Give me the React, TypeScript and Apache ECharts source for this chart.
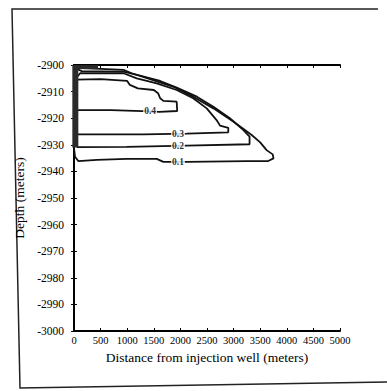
import React, { useEffect, useRef } from "react";
import * as echarts from "echarts";

// Contour levels (fraction) and their label positions
const levels = ["0.1", "0.2", "0.3", "0.4"];

// Contour lines: [distance (m), depth (m)]
const contour01 = [
  [0, -2931.3], [20, -2934.5], [80, -2936.1], [430, -2935.7], [990, -2935.3], [1555, -2935.3],
  [1680, -2936.4], [2120, -2936.4], [3250, -2936.1], [3650, -2936.1], [3750, -2935.1],
  [3735, -2933.6], [3620, -2932.0], [3500, -2929.1], [3340, -2926.3], [3000, -2921.3],
  [2620, -2916.3], [2240, -2911.9], [1870, -2908.2], [1430, -2905.3], [1085, -2903.1],
  [930, -2901.8], [175, -2901.2], [60, -2900.6],
];
const contour02 = [
  [50, -2930.9], [990, -2930.8], [2120, -2930.3], [3300, -2929.8], [3300, -2926.9],
  [3180, -2924.4], [2930, -2920.0], [2620, -2915.7], [2310, -2911.9], [1930, -2908.5],
  [1620, -2906.0], [1240, -2904.0], [930, -2902.5], [145, -2902.3], [60, -2901.5],
];
const contour03 = [
  [50, -2926.1], [1300, -2926.1], [2120, -2925.8], [2900, -2925.3], [2900, -2923.6],
  [2745, -2922.8], [2680, -2920.7], [2495, -2916.3], [2240, -2912.5], [1930, -2909.4],
  [1555, -2906.9], [1180, -2905.0], [930, -2903.1], [115, -2903.1], [40, -2905],
];
const contour04 = [
  [50, -2917], [700, -2917], [1430, -2917.4], [1600, -2917.6], [1940, -2917.3],
  [1930, -2913.8], [1680, -2913.5], [1620, -2912.5], [1580, -2910.6], [1500, -2909.4],
  [1200, -2908.8], [1050, -2907.5], [1000, -2906], [500, -2905.3], [50, -2905.5],
];
const labelPoints = [
  [1955, -2936.4], [1955, -2930.5], [1955, -2926.0], [1430, -2917.4],
];
// Saturated zone next to the well
const wellBand = [[25, -2900], [25, -2931]];
const topBand = [[0, -2900.8], [450, -2900.8]];

const FONT = "'Liberation Serif', 'DejaVu Serif', serif";
const plain = (v: number) => String(v);

export default function App() {
  const ref = useRef<HTMLDivElement>(null);
  useEffect(() => {
    if (!ref.current) return;
    const chart = echarts.init(ref.current, undefined, { renderer: "svg" });
    const contours = [contour01, contour02, contour03, contour04];
    const lineSeries: any[] = contours.map((d, i) => ({
      type: "line",
      name: levels[i],
      data: d,
      showSymbol: false,
      symbol: "none",
      lineStyle: { color: "#111", width: 1.8 },
      z: 2,
    }));
    chart.setOption({
      animation: false,
      backgroundColor: "#fff",
      graphic: [
        {
          type: "polyline",
          shape: { points: [[378, 9], [12, 9], [20, 388], [387, 382]] },
          style: { stroke: "#222", lineWidth: 1.5, fill: "none" },
          silent: true,
        },
      ],
      grid: { left: 74, top: 65, width: 266, height: 266 },
      xAxis: [
        {
          type: "value",
          min: 0,
          max: 5000,
          interval: 500,
          name: "Distance from injection well (meters)",
          nameLocation: "middle",
          nameGap: 12,
          nameTextStyle: { fontFamily: FONT, fontSize: 13.5, color: "#000" },
          axisLine: { lineStyle: { color: "#000", width: 2 } },
          axisTick: { inside: true, length: 3, lineStyle: { color: "#000" } },
          axisLabel: { fontFamily: FONT, fontSize: 10.5, color: "#000", margin: 4, formatter: plain },
          splitLine: { show: false },
        },
        {
          type: "value",
          position: "top",
          min: 0,
          max: 5000,
          interval: 500,
          axisLine: { show: true, lineStyle: { color: "#000", width: 2 } },
          axisTick: { inside: true, length: 3, lineStyle: { color: "#000" } },
          axisLabel: { show: false },
          splitLine: { show: false },
        },
      ],
      yAxis: [
        {
          type: "value",
          min: -3000,
          max: -2900,
          interval: 10,
          name: "Depth (meters)",
          nameLocation: "middle",
          nameGap: 43,
          nameTextStyle: { fontFamily: FONT, fontSize: 13.5, color: "#000" },
          axisLine: { show: true, lineStyle: { color: "#000", width: 2 } },
          axisTick: { inside: true, length: 3, lineStyle: { color: "#000" } },
          axisLabel: { fontFamily: FONT, fontSize: 11.5, color: "#000", margin: 10, formatter: plain },
          splitLine: { show: false },
        },
        {
          type: "value",
          position: "right",
          min: -3000,
          max: -2900,
          interval: 10,
          axisLine: { show: true, lineStyle: { color: "#000", width: 2 } },
          axisTick: { inside: true, length: 3, lineStyle: { color: "#000" } },
          axisLabel: { show: false },
          splitLine: { show: false },
        },
      ],
      series: [
        {
          type: "line",
          data: wellBand,
          symbol: "none",
          lineStyle: { color: "#2a2a2a", width: 6 },
          z: 3,
        },
        {
          type: "line",
          data: topBand,
          symbol: "none",
          lineStyle: { color: "#2a2a2a", width: 4 },
          z: 3,
        },
        ...lineSeries,
        {
          type: "scatter",
          data: labelPoints,
          symbolSize: 1,
          itemStyle: { color: "rgba(0,0,0,0)" },
          z: 5,
          label: {
            show: true,
            position: "inside",
            formatter: (p: any) => levels[p.dataIndex],
            fontFamily: FONT,
            fontSize: 9.5,
            fontWeight: "bold",
            color: "#000",
            textBorderWidth: 0,
            backgroundColor: "#fff",
            padding: [0, 1],
          },
        },
      ],
    });
    return () => chart.dispose();
  }, []);
  return (
    <div
      ref={ref}
      style={{ position: "fixed", left: 0, top: 0, width: 387, height: 391 }}
    />
  );
}
